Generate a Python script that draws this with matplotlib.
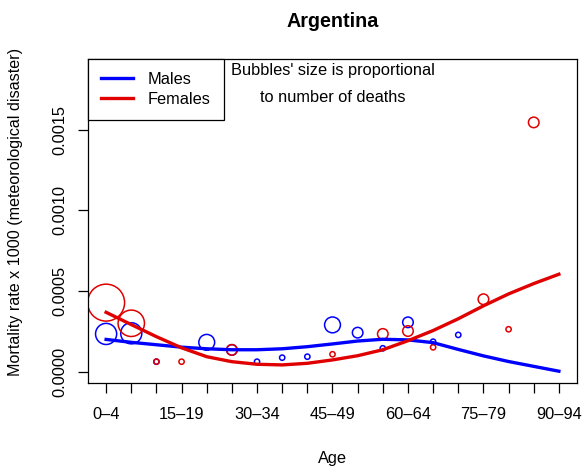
import numpy as np
import matplotlib
matplotlib.use("Agg")
import matplotlib.pyplot as plt

plt.rcParams['font.family'] = ['Liberation Sans', 'DejaVu Sans']

ages = ['0–4', '5–9', '10–14', '15–19', '20–24', '25–29', '30–34', '35–39', '40–44',
        '45–49', '50–54', '55–59', '60–64', '65–69', '70–74', '75–79', '80–84',
        '85–89', '90–94']

# observed rates (nan = no deaths in that group) and number of deaths
male_rate = [0.000234, 0.000238, 0.000062, np.nan, 0.000182, 0.000135, 0.000062,
             0.000087, 0.000093, 0.000290, 0.000242, 0.000145, 0.000306, 0.000186,
             0.000228, np.nan, np.nan, np.nan, np.nan]
male_deaths = [4, 4, 1, 0, 3, 2, 1, 1, 1, 3, 2, 1, 2, 1, 1, 0, 0, 0, 0]

female_rate = [0.000428, 0.000300, 0.000062, 0.000062, np.nan, 0.000135, np.nan,
               np.nan, np.nan, 0.000108, np.nan, 0.000234, 0.000252, 0.000151,
               np.nan, 0.000449, 0.000263, 0.001545, np.nan]
female_deaths = [7, 5, 1, 1, 0, 2, 0, 0, 0, 1, 0, 2, 2, 1, 0, 2, 1, 2, 0]

# smoothed fits
male_fit = [0.000200, 0.000182, 0.000167, 0.000152, 0.000142, 0.000136, 0.000136,
            0.000142, 0.000155, 0.000172, 0.000190, 0.000201, 0.000197, 0.000180,
            0.000138, 0.000098, 0.000063, 0.000033, 0.000003]
female_fit = [0.000368, 0.000292, 0.000217, 0.000148, 0.000093, 0.000062, 0.000046,
              0.000042, 0.000052, 0.000073, 0.000099, 0.000136, 0.000192, 0.000255,
              0.000328, 0.000408, 0.000482, 0.000546, 0.000604]

BLUE = '#0000FF'
RED = '#E00000'

x = np.arange(len(ages))

fig = plt.figure(figsize=(5.82, 4.67), dpi=100)
ax = fig.add_axes([0.1512, 0.1799, 0.8402, 0.6938])

ax.scatter(x, male_rate, s=(3.8 * np.array(male_deaths)) ** 2, facecolors='none',
           edgecolors=BLUE, linewidths=1.1, zorder=2)
ax.scatter(x, female_rate, s=(3.8 * np.array(female_deaths)) ** 2, facecolors='none',
           edgecolors=RED, linewidths=1.1, zorder=2)

ax.plot(x, male_fit, color=BLUE, lw=2.4, label='Males', zorder=3)
ax.plot(x, female_fit, color=RED, lw=2.4, label='Females', zorder=3)

ax.set_xlim(-0.72, 18.72)
ax.set_ylim(-0.00007, 0.001938)

ax.set_xticks(x)
ax.set_xticklabels([a if i % 3 == 0 else '' for i, a in enumerate(ages)])
ax.set_yticks([0, 0.0005, 0.0010, 0.0015])
ax.set_yticklabels(['0.0000', '0.0005', '0.0010', '0.0015'], rotation=90, va='center')
ax.tick_params(axis='both', direction='out', length=7.2, width=0.9, labelsize=11.8)
ax.tick_params(axis='x', pad=10)
ax.tick_params(axis='y', pad=8)
for sp in ax.spines.values():
    sp.set_linewidth(0.9)

ax.set_xlabel('Age', fontsize=11.8, labelpad=21)
ax.set_ylabel('Mortality rate x 1000 (meteorological disaster)', fontsize=11.6)
ax.yaxis.set_label_coords(-0.133, 0.528)
ax.set_title('Argentina', fontsize=14.2, fontweight='bold', pad=23)

leg = ax.legend(loc='upper left', bbox_to_anchor=(0, 1), borderaxespad=0,
                fancybox=False, edgecolor='black', framealpha=1, fontsize=11.8,
                handlelength=1.95, handletextpad=0.9, borderpad=0.8,
                labelspacing=0.3)
leg.get_frame().set_linewidth(0.9)

ax.text(0.5, 0.964, "Bubbles' size is proportional", transform=ax.transAxes,
        ha='center', va='center', fontsize=11.8)
ax.text(0.5, 0.882, "to number of deaths", transform=ax.transAxes,
        ha='center', va='center', fontsize=11.8)

fig.savefig('out.png', dpi=100)
